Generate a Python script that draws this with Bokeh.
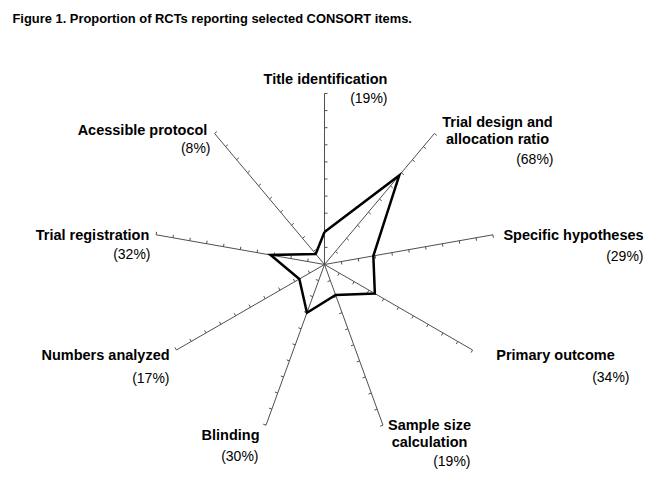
import math
from bokeh.plotting import figure
from bokeh.models import Range1d
from bokeh.core.properties import value
from bokeh.embed import file_html
from bokeh.resources import INLINE

# ---- data ----
categories = ["Title identification", "Trial design and allocation ratio",
              "Specific hypotheses", "Primary outcome", "Sample size calculation",
              "Blinding", "Numbers analyzed", "Trial registration", "Acessible protocol"]
values = [19, 68, 29, 34, 19, 30, 17, 32, 8]
tick_values = [10, 20, 30, 40, 50, 60, 70, 80, 90, 100]
axis_max = 100
title_text = "Figure 1. Proportion of RCTs reporting selected CONSORT items."

# ---- layout ----
W, H = 657, 483
CX, CY = 324, 264     # pixel centre of radar
S = 1.71              # pixels per percent unit
FONT = "Liberation Sans"

def px(x, y):
    return ((x - CX) / S, (CY - y) / S)

p = figure(width=W, height=H, output_backend="svg", toolbar_location=None,
           x_range=Range1d(-CX / S, (W - CX) / S),
           y_range=Range1d(-(H - CY) / S, CY / S),
           x_axis_type=None, y_axis_type=None, min_border=0)
p.grid.visible = False
p.outline_line_color = None
p.background_fill_color = "white"
p.border_fill_color = "white"

n = len(categories)
angles = [math.radians(90 - 40 * i) for i in range(n)]

# spokes
p.segment(x0=[0] * n, y0=[0] * n,
          x1=[axis_max * math.cos(a) for a in angles],
          y1=[axis_max * math.sin(a) for a in angles],
          line_color="#505050", line_width=1)

# ticks on clockwise side of each spoke
tl = 3.0 / S
tx0, ty0, tx1, ty1 = [], [], [], []
for a in angles:
    nx, ny = math.sin(a), -math.cos(a)
    for t in tick_values:
        bx, by = t * math.cos(a), t * math.sin(a)
        tx0.append(bx); ty0.append(by)
        tx1.append(bx + tl * nx); ty1.append(by + tl * ny)
p.segment(x0=tx0, y0=ty0, x1=tx1, y1=ty1, line_color="#505050", line_width=1)

# data polygon
xs = [v * math.cos(a) for v, a in zip(values, angles)]
ys = [v * math.sin(a) for v, a in zip(values, angles)]
p.line(xs + xs[:1], ys + ys[:1], line_color="black", line_width=2.5, line_join="miter")

# labels: (name lines, name centre x, first line y, line step, pct right x, pct y)
label_layout = [
    (["Title identification"], 325, 78, 16, 387, 97),
    (["Trial design and", "allocation ratio"], 497, 121, 17, 553, 158),
    (["Specific hypotheses"], 573, 234, 16, 643, 255),
    (["Primary outcome"], 555, 354, 16, 629, 376),
    (["Sample size", "calculation"], 429, 424, 17, 470, 460),
    (["Blinding"], 230, 434, 16, 258, 455),
    (["Numbers analyzed"], 105, 354, 16, 169, 377),
    (["Trial registration"], 92, 234, 16, 150, 253),
    (["Acessible protocol"], 142, 129, 16, 210, 147),
]

nx_, ny_, nt = [], [], []
pxs, pys, pt = [], [], []
for (lines, cx, y0, step, rx, py_), v in zip(label_layout, values):
    for k, ln in enumerate(lines):
        x, y = px(cx, y0 + k * step)
        nx_.append(x); ny_.append(y); nt.append(ln)
    x, y = px(rx, py_)
    pxs.append(x); pys.append(y); pt.append(f"({v}%)")

p.text(x=nx_, y=ny_, text=nt, text_font=value(FONT), text_font_size="14.5px",
       text_font_style="bold", text_align="center", text_baseline="middle",
       text_color="black")
p.text(x=pxs, y=pys, text=pt, text_font=value(FONT), text_font_size="14px",
       text_font_style="normal", text_align="right", text_baseline="middle",
       text_color="black")

tx, ty = px(12, 18)
p.text(x=[tx], y=[ty], text=[title_text], text_font=value(FONT), text_font_size="12.9px",
       text_font_style="bold", text_align="left", text_baseline="middle",
       text_color="black")

open("out.html", "w").write(file_html(p, INLINE))
